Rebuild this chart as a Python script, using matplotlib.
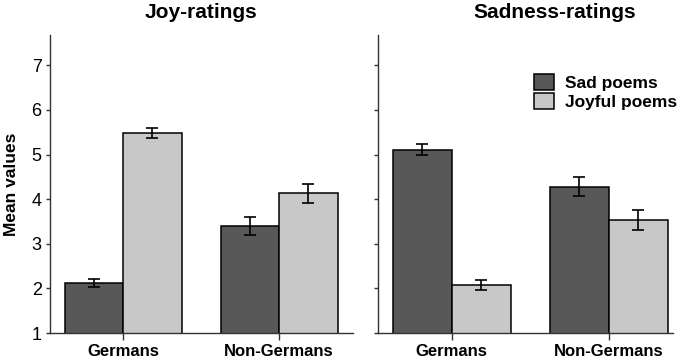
import numpy as np
import matplotlib
matplotlib.use("Agg")
from matplotlib import pyplot as plt

plt.rcParams['font.family'] = ['Liberation Sans', 'DejaVu Sans']

groups = ["Germans", "Non-Germans"]
series = ["Sad poems", "Joyful poems"]

# Joy-ratings
joy_sad = [2.12, 3.40]
joy_sad_err = [0.10, 0.20]
joy_joyful = [5.48, 4.13]
joy_joyful_err = [0.11, 0.21]

# Sadness-ratings
sad_sad = [5.11, 4.28]
sad_sad_err = [0.13, 0.21]
sad_joyful = [2.08, 3.53]
sad_joyful_err = [0.11, 0.22]

dark = "#585858"
light = "#c8c8c8"
width = 0.375

fig = plt.figure(figsize=(6.86, 3.64), dpi=100)
ax1 = fig.add_axes([50 / 686, 31 / 364, 303 / 686, 298 / 364])
ax2 = fig.add_axes([378 / 686, 31 / 364, 295 / 686, 298 / 364])

x = np.arange(len(groups))


def draw(ax, a, a_err, b, b_err):
    ax.bar(x - width / 2, a, width, color=dark, edgecolor="black",
           linewidth=1.1, yerr=a_err, capsize=4.5,
           error_kw=dict(elinewidth=1.2, capthick=1.2, ecolor="black"),
           label=series[0], zorder=2)
    ax.bar(x + width / 2, b, width, color=light, edgecolor="black",
           linewidth=1.1, yerr=b_err, capsize=4.5,
           error_kw=dict(elinewidth=1.2, capthick=1.2, ecolor="black"),
           label=series[1], zorder=2)
    ax.set_ylim(1, 7.68)
    ax.set_yticks(range(1, 8))
    ax.set_xticks(x)
    ax.set_xticklabels(groups, fontsize=12, fontweight="bold")
    for s in ["top", "right"]:
        ax.spines[s].set_visible(False)
    for s in ["left", "bottom"]:
        ax.spines[s].set_color("#333333")
        ax.spines[s].set_linewidth(1.0)
    ax.tick_params(axis="y", direction="out", length=3, width=1,
                   color="#333333", labelsize=13, pad=3)
    ax.tick_params(axis="x", direction="out", length=5, width=1,
                   color="#333333", pad=3)


draw(ax1, joy_sad, joy_sad_err, joy_joyful, joy_joyful_err)
draw(ax2, sad_sad, sad_sad_err, sad_joyful, sad_joyful_err)

ax1.set_xlim(-0.468, 1.474)
ax2.set_xlim(-0.47, 1.41)
ax2.set_yticklabels([])

ax1.set_title("Joy-ratings", fontsize=15, fontweight="bold", pad=12)
ax2.set_title("Sadness-ratings", fontsize=15, fontweight="bold", pad=12, x=0.6)
ax1.set_ylabel("Mean values", fontsize=12.5, fontweight="bold", labelpad=9)

ax2.legend(loc="upper left", bbox_to_anchor=(0.53, 0.87), frameon=False,
           prop=dict(weight="bold", size=12.5),
           handlelength=1.15, handleheight=1.1, labelspacing=0.1,
           handletextpad=0.6, borderpad=0, borderaxespad=0)

fig.savefig("out.png", dpi=100)
